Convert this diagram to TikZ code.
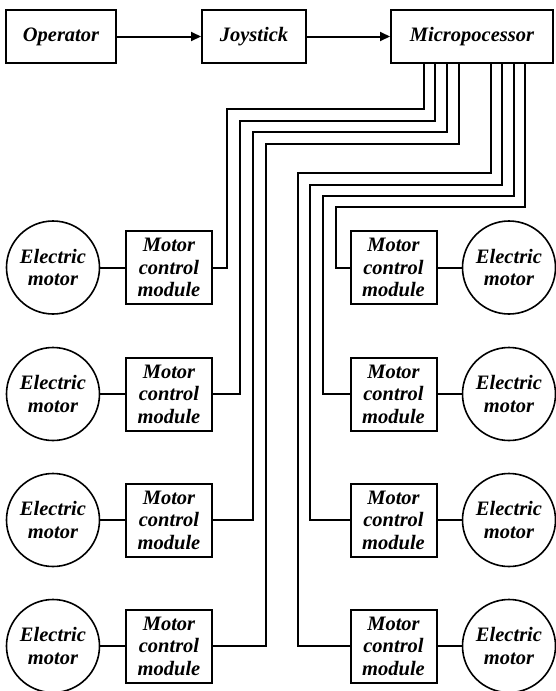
\documentclass[tikz,border=0pt]{standalone}
\usepackage{fontspec}
\setmainfont{Liberation Serif}
\usetikzlibrary{arrows.meta}
\begin{document}
\begin{tikzpicture}[x=1pt,y=-1pt,
  every node/.style={font=\bfseries\itshape\fontsize{20.5}{22.5}\selectfont},
  topbox/.style={draw,line width=2pt,minimum height=53pt,inner sep=0pt},
  mcm/.style={draw,line width=2pt,minimum width=86pt,minimum height=73pt,inner sep=0pt,align=center},
  motor/.style={draw,circle,line width=1.6pt,minimum size=93pt,inner sep=0pt,align=center},
  wire/.style={line width=2pt},
  arr/.style={line width=2pt,-{Triangle[length=10pt,width=9pt]}}]
\useasboundingbox (0,0) rectangle (556,691);
% top row
\node[topbox,minimum width=110pt] (op) at (61,36.5) {Operator};
\node[topbox,minimum width=104pt] (joy) at (254,36.5) {Joystick};
\node[topbox,minimum width=162pt] (mp) at (472,36.5) {Micropocessor};
\draw[arr] (op.east) -- (joy.west);
\draw[arr] (joy.east) -- (mp.west);
% modules and motors
\foreach \i/\y in {1/267.5,2/394,3/520,4/646}{
  \node[mcm] (lm\i) at (169,\y) {Motor\\control\\module};
  \node[motor] (le\i) at (53,\y) {Electric\\motor};
  \draw[wire] (le\i.east) -- (lm\i.west);
  \node[mcm] (rm\i) at (393.5,\y) {Motor\\control\\module};
  \node[motor] (re\i) at (509,\y) {Electric\\motor};
  \draw[wire] (rm\i.east) -- (re\i.west);
}
% wire ports
\coordinate (p1) at (424,0);
\coordinate (p2) at (435,0);
\coordinate (p3) at (447,0);
\coordinate (p4) at (459,0);
\coordinate (p5) at (491,0);
\coordinate (p6) at (502,0);
\coordinate (p7) at (514,0);
\coordinate (p8) at (525,0);
\coordinate (b1) at (227,109);
\coordinate (b2) at (240,121);
\coordinate (b3) at (253,132);
\coordinate (b4) at (266,144);
\coordinate (b5) at (298,173);
\coordinate (b6) at (310,185);
\coordinate (b7) at (323,196);
\coordinate (b8) at (336,207);
\draw[wire] (mp.south -| p1) |- (b1) |- (lm1.east);
\draw[wire] (mp.south -| p2) |- (b2) |- (lm2.east);
\draw[wire] (mp.south -| p3) |- (b3) |- (lm3.east);
\draw[wire] (mp.south -| p4) |- (b4) |- (lm4.east);
\draw[wire] (mp.south -| p5) |- (b5) |- (rm4.west);
\draw[wire] (mp.south -| p6) |- (b6) |- (rm3.west);
\draw[wire] (mp.south -| p7) |- (b7) |- (rm2.west);
\draw[wire] (mp.south -| p8) |- (b8) |- (rm1.west);
\end{tikzpicture}
\end{document}
